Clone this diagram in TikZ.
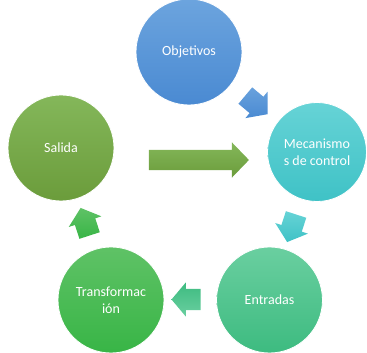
\documentclass[tikz,border=0pt]{standalone}
\usepackage{fontspec}
\setmainfont{Carlito}
\usetikzlibrary{shapes.arrows}

% palette (light top / dark bottom)
\definecolor{bluetop}{HTML}{6CA4DE}\definecolor{bluebot}{HTML}{4A8AD2}
\definecolor{cyantop}{HTML}{66D3D6}\definecolor{cyanbot}{HTML}{3FC2C6}
\definecolor{menttop}{HTML}{6ACFA0}\definecolor{mentbot}{HTML}{3DBB80}
\definecolor{greentop}{HTML}{5FC266}\definecolor{greenbot}{HTML}{38B546}
\definecolor{olivetop}{HTML}{84B75A}\definecolor{olivebot}{HTML}{6B9C3B}

\tikzset{
  stage/.style={circle, minimum size=106pt, inner sep=0pt, draw=white, line width=0.8pt,
    text=white, align=center, font=\fontsize{14pt}{17pt}\selectfont},
  cyclearrow/.style={single arrow, inner xsep=0pt, inner ysep=10.5pt, minimum height=29pt,
    single arrow head extend=6.5pt, single arrow head indent=0pt, single arrow tip angle=100},
  bigarrow/.style={single arrow, inner xsep=0pt, inner ysep=10pt, minimum height=100pt,
    single arrow head extend=7.5pt, single arrow head indent=0pt, single arrow tip angle=92},
}

\begin{document}
\begin{tikzpicture}[x=1pt, y=1pt]
  \clip (0,0) rectangle (367,353);

  % stages of the cycle
  \node[stage, top color=bluetop, bottom color=bluebot] (obj) at (189,301) {Objetivos};
  \node[stage, minimum size=99pt, top color=cyantop, bottom color=cyanbot] (mec) at (317,201) {Mecanismo\\s de control};
  \node[stage, top color=menttop, bottom color=mentbot] (ent) at (269.5,53) {Entradas};
  \node[stage, top color=greentop, bottom color=greenbot] (tra) at (111,53) {Transformac\\ión};
  \node[stage, top color=olivetop, bottom color=olivebot] (sal) at (61,205) {Salida};

  % block arrows between consecutive stages
  \node[cyclearrow, rotate=-40, top color=bluetop!90!bluebot, bottom color=bluebot] (a1) at (253,251) {};
  \node[cyclearrow, rotate=-108, top color=cyantop, bottom color=cyanbot] (a2) at (293,129) {};
  \node[cyclearrow, rotate=180, top color=mentbot, bottom color=menttop] (a3) at (190.5,53.5) {};
  \node[cyclearrow, rotate=108, top color=greentop, bottom color=greenbot] (a4) at (86.5,127) {};

  % feedback arrow from Salida towards Mecanismos de control
  \node[bigarrow, top color=olivetop, bottom color=olivebot] (fb) at (194,193) {};
\end{tikzpicture}
\end{document}
